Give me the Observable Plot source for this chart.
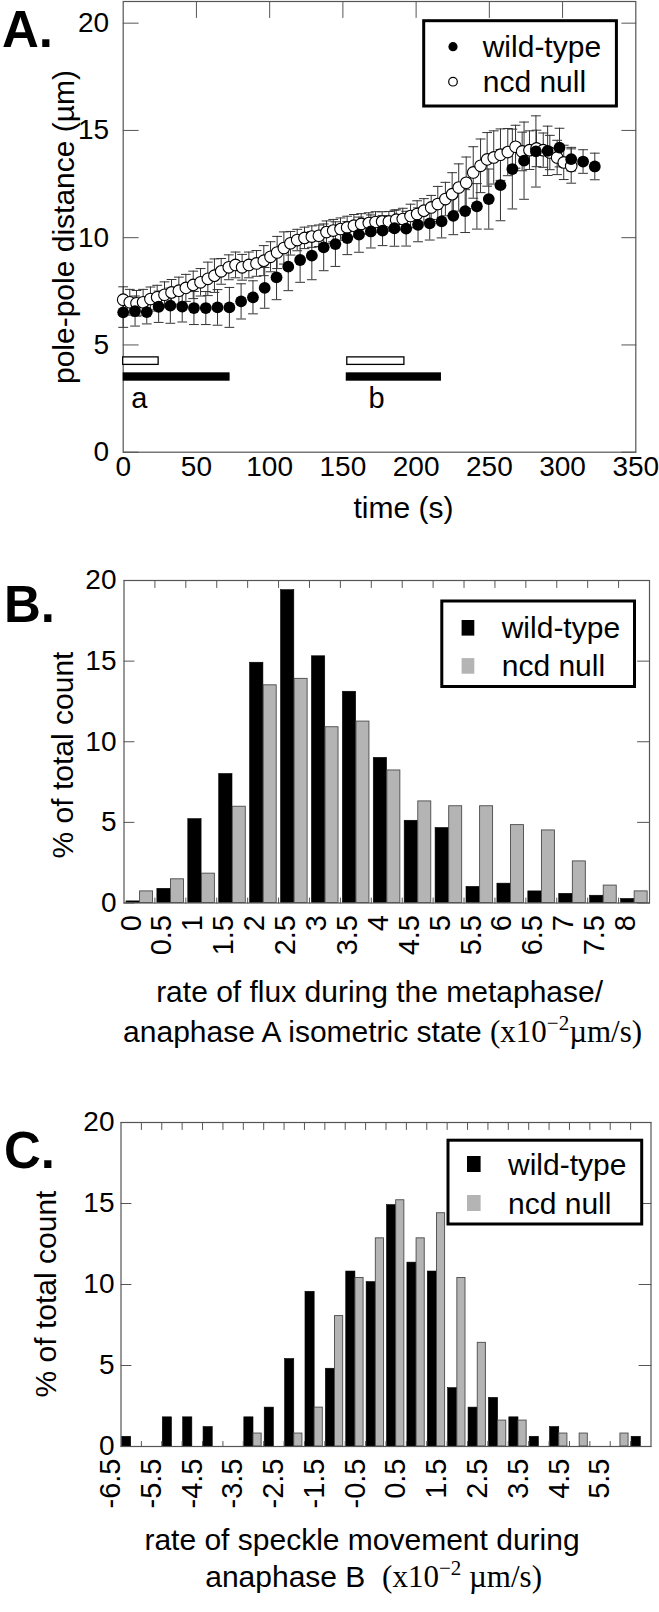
<!DOCTYPE html>
<html>
<head>
<meta charset="utf-8">
<script src="https://cdn.jsdelivr.net/npm/d3@7"></script>
<script src="https://cdn.jsdelivr.net/npm/@observablehq/plot@0.6"></script>
<style>
  html, body { margin: 0; padding: 0; background: #fff; }
  #chart { width: 659px; }
  #chart svg { display: block; }
</style>
</head>
<body>
<div id="chart"></div>
<script>
// ---------------- Panel A: pole-pole distance vs time ----------------
const wtTime = [0,8.1,16.1,24.2,32.2,40.3,48.3,56.4,64.4,72.5,80.5,88.6,96.6,104.7,112.7,120.8,128.8,136.9,144.9,153,161,169.1,177.1,185.2,193.2,201.3,209.3,217.4,225.4,233.5,241.5,249.6,257.6,265.7,273.7,281.8,289.8,297.9,305.9,314,322];
const wtDist = [6.52,6.58,6.53,6.78,6.83,6.79,6.72,6.72,6.75,6.75,7.03,7.22,7.66,8.15,8.65,8.96,9.16,9.55,9.70,9.98,10.14,10.29,10.33,10.44,10.42,10.60,10.67,10.76,11.02,11.24,11.46,11.80,12.45,13.20,13.59,14.02,14.05,14.20,13.66,13.55,13.32];
const wtSD = [0.70,0.70,0.55,0.73,0.82,0.72,0.77,0.77,0.83,0.93,0.82,0.77,0.95,1.04,1.12,1.04,1.12,1.09,1.04,0.77,0.82,0.77,0.70,0.84,0.81,0.79,0.78,0.77,0.88,1.00,1.06,1.40,1.66,1.86,1.80,1.66,1.15,0.90,0.55,0.55,0.62];

const ncdTime = [0,4.5,9.1,13.6,18.6,23.2,28.2,33,38,42.8,47.8,52.8,57.8,62.3,66.9,72.1,76.7,81.2,85.8,91,96,100.6,105.1,109.7,114.2,118.8,123.8,128.8,133.6,138.8,143.4,148.4,152.9,157.5,162.5,167.7,172.3,176.8,181.4,186.4,190.9,196.2,200.7,205.3,210.3,214.8,220,224.6,229.1,234.2,239,244,248.5,253,257.6,262.6,267.9,272.4,277.4,282.2,286.8,291.3,296.3,300.8,305.9];
const ncdDist = [7.11,6.99,6.94,6.99,7.14,7.22,7.34,7.45,7.53,7.66,7.80,7.92,8.08,8.23,8.43,8.62,8.73,8.62,8.73,8.80,8.93,9.11,9.31,9.52,9.74,9.89,9.99,10.05,10.09,10.26,10.33,10.40,10.48,10.56,10.64,10.68,10.73,10.75,10.76,10.84,10.87,11.01,11.10,11.26,11.41,11.57,11.80,12.03,12.34,12.56,13.04,13.35,13.65,13.74,13.87,13.99,14.24,14.02,14.08,14.16,14.08,13.97,13.74,13.51,13.34];
const ncdSD = [0.60,0.60,0.60,0.60,0.56,0.56,0.60,0.60,0.63,0.63,0.64,0.64,0.78,0.78,0.60,0.58,0.60,0.60,0.60,0.60,0.70,0.70,0.75,0.75,0.55,0.50,0.50,0.50,0.50,0.52,0.52,0.52,0.52,0.52,0.48,0.48,0.48,0.46,0.46,0.46,0.50,0.55,0.62,0.56,0.56,0.82,0.78,1.00,1.10,1.20,1.20,1.25,1.25,1.24,1.20,1.10,1.00,0.90,0.90,0.85,0.80,0.80,0.80,0.80,0.80];

const timeTicks = [0,50,100,150,200,250,300,350];
const distTicks = [0,5,10,15,20];

// measured intervals a and b (seconds)
const intervalLabel = ["a", "b"];
const ncdIntervalStart = [0, 153];
const ncdIntervalEnd = [24.2, 192];
const wtIntervalStart = [0, 152.3];
const wtIntervalEnd = [73, 217.3];
const intervalLabelTime = [11, 173];

// ---------------- Panel B: flux rate histogram ----------------
const fluxBins = ["0","0.5","1","1.5","2","2.5","3","3.5","4","4.5","5","5.5","6","6.5","7","7.5","8"];
const fluxWT = [0.1,0.88,5.2,8.0,14.9,19.4,15.3,13.1,9.0,5.1,4.65,1.0,1.2,0.72,0.57,0.45,0.25];
const fluxNcd = [0.72,1.47,1.82,5.97,13.5,13.9,10.9,11.25,8.22,6.3,6.0,6.0,4.83,4.5,2.58,1.08,0.72];

// ---------------- Panel C: speckle movement histogram ----------------
const speckleBins = ["-6.5","-6","-5.5","-5","-4.5","-4","-3.5","-3","-2.5","-2","-1.5","-1","-0.5","0","0.5","1","1.5","2","2.5","3","3.5","4","4.5","5","5.5","6"];
const speckleWT = [0.6,0,1.8,1.8,1.2,0,1.8,2.4,5.4,9.55,4.8,10.8,10.15,14.9,11.35,10.8,3.6,2.4,3.0,1.8,0.6,1.2,0,0,0,0.6];
const speckleNcd = [0,0,0,0,0,0,0.8,0,0.8,2.4,8.05,10.4,12.85,15.2,12.85,14.4,10.4,6.4,1.6,1.6,0,0.8,0.8,0,0.8,0];
const speckleTickLabels = ["-6.5","-5.5","-4.5","-3.5","-2.5","-1.5","-0.5","0.5","1.5","2.5","3.5","4.5","5.5"];
const pctTicks = [0,5,10,15,20];

const seriesNames = ["wild-type", "ncd null"];

// ---------------- helpers ----------------
const SANS = "'Liberation Sans', Arial, Helvetica, sans-serif";
const SERIF = "'Liberation Serif', 'Times New Roman', Times, serif";
const INK = "#000";
const AXIS = "#555";
const GRAY = "#b4b4b4";

const lineShape = {draw(ctx, l) { ctx.moveTo(0, 0); ctx.lineTo(0, -l); }};
const capShape = {draw(ctx, l) { ctx.moveTo(-l / 2, 0); ctx.lineTo(l / 2, 0); }};

function innerTicks({xTicks, yTicks, x0, x1, y0, y1, left, right, top, bottom}) {
  const o = {anchor: "start", shape: lineShape, stroke: AXIS, strokeWidth: 1};
  const m = [];
  if (yTicks && left) m.push(Plot.vector(yTicks, {...o, x: () => x0, y: d => d, length: left, rotate: 90}));
  if (yTicks && right) m.push(Plot.vector(yTicks, {...o, x: () => x1, y: d => d, length: right, rotate: -90}));
  if (xTicks && top) m.push(Plot.vector(xTicks, {...o, x: d => d, y: () => y1, length: top, rotate: 180}));
  if (xTicks && bottom) m.push(Plot.vector(xTicks, {...o, x: d => d, y: () => y0, length: bottom, rotate: 0}));
  return m;
}

const baseStyle = {fontFamily: SANS, background: "white", color: INK, overflow: "visible"};

function addText(svg, x, y, str, {size = 30, anchor = "middle", rotate = 0, weight = "normal", family = SANS} = {}) {
  return svg.append("text")
    .attr("transform", `translate(${x},${y})` + (rotate ? ` rotate(${rotate})` : ""))
    .attr("text-anchor", anchor)
    .attr("dy", "0.35em")
    .style("font-family", family)
    .style("font-size", size + "px")
    .style("font-weight", weight)
    .attr("fill", INK)
    .text(str);
}

function addUnitTitle(svg, x, y, lead, gap) {
  const t = svg.append("text")
    .attr("transform", `translate(${x},${y})`)
    .attr("text-anchor", "middle")
    .attr("dy", "0.35em")
    .style("font-size", "30px")
    .attr("fill", INK);
  t.append("tspan").style("font-family", SANS).text(lead);
  t.append("tspan").style("font-family", SERIF).style("font-size", "31px").text("(x10");
  t.append("tspan").style("font-family", SERIF).style("font-size", "21px").attr("dy", "-0.55em").text("\u22122");
  t.append("tspan").style("font-family", SERIF).style("font-size", "31px").attr("dy", "0.38em").text(gap + "\u00b5m/s)");
  return t;
}

function barLegend(svg, box, sw, rows) {
  svg.append("rect").attr("x", box[0]).attr("y", box[1]).attr("width", box[2]).attr("height", box[3])
    .attr("fill", "white").attr("stroke", INK).attr("stroke-width", 3);
  rows.forEach(r => {
    svg.append("rect").attr("x", sw[0]).attr("y", r.y - sw[2] / 2).attr("width", sw[1]).attr("height", sw[2])
      .attr("fill", r.fill);
    addText(svg, r.tx, r.y, r.label, {size: 30, anchor: "start"});
  });
}

const chart = document.getElementById("chart");

// ================= Panel A =================
{
  const wtRows = wtTime.map((t, i) => ({t, v: wtDist[i], sd: wtSD[i]}));
  const ncdRows = ncdTime.map((t, i) => ({t, v: ncdDist[i], sd: ncdSD[i]}));
  const intervals = intervalLabel.map((label, i) => ({
    label, ns: ncdIntervalStart[i], ne: ncdIntervalEnd[i], ws: wtIntervalStart[i], we: wtIntervalEnd[i], lt: intervalLabelTime[i]
  }));
  const yTop = 21.01;
  const err = (rows) => [
    Plot.ruleX(rows, {x: "t", y1: d => d.v - d.sd, y2: d => d.v + d.sd, stroke: "#333", strokeWidth: 1}),
    Plot.vector(rows, {x: "t", y: d => d.v + d.sd, length: 9, rotate: 0, anchor: "start", shape: capShape, stroke: "#333", strokeWidth: 1}),
    Plot.vector(rows, {x: "t", y: d => d.v - d.sd, length: 9, rotate: 0, anchor: "start", shape: capShape, stroke: "#333", strokeWidth: 1})
  ];
  const svgA = Plot.plot({
    width: 659, height: 530,
    marginTop: 1, marginRight: 23.7, marginBottom: 78.3, marginLeft: 122.7,
    x: {domain: [0, 350]},
    y: {domain: [0, yTop]},
    style: baseStyle,
    marks: [
      Plot.frame({stroke: AXIS, strokeWidth: 1.2}),
      ...innerTicks({xTicks: timeTicks.slice(1, -1), yTicks: distTicks, x0: 0, x1: 350, y0: 0, y1: yTop, left: 15, right: 14, top: 16, bottom: 0}),
      Plot.axisX({ticks: timeTicks, tickSize: 0, tickPadding: 4, fontSize: 28, label: null}),
      Plot.axisY({ticks: distTicks, tickSize: 0, tickPadding: 14, fontSize: 28, label: null}),
      Plot.rect(intervals, {x1: "ns", x2: "ne", y1: 4.07, y2: 4.42, fill: "white", stroke: INK, strokeWidth: 1.3}),
      Plot.rect(intervals, {x1: "ws", x2: "we", y1: 3.31, y2: 3.70, fill: INK}),
      Plot.text(intervals, {x: "lt", y: 2.5, text: "label", fontSize: 29, fill: INK}),
      ...err(ncdRows),
      ...err(wtRows),
      Plot.dot(ncdRows, {x: "t", y: "v", r: 5.8, fill: "white", stroke: INK, strokeWidth: 1.1}),
      Plot.dot(wtRows, {x: "t", y: "v", r: 5.9, fill: INK})
    ]
  });
  chart.appendChild(svgA);
  const s = d3.select(svgA);
  addText(s, 2, 29, "A.", {size: 51, anchor: "start", weight: "bold"});
  addText(s, 63, 227, "pole-pole distance (\u00b5m)", {size: 30, rotate: -90});
  addText(s, 403.5, 507, "time (s)", {size: 30});
  // legend
  s.append("rect").attr("x", 423.7).attr("y", 20.7).attr("width", 192.7).attr("height", 85.3)
    .attr("fill", "white").attr("stroke", INK).attr("stroke-width", 3);
  s.append("circle").attr("cx", 453).attr("cy", 46.7).attr("r", 4.6).attr("fill", INK);
  s.append("circle").attr("cx", 453).attr("cy", 81.7).attr("r", 4.3).attr("fill", "white").attr("stroke", INK).attr("stroke-width", 1.2);
  addText(s, 482.7, 46.7, seriesNames[0], {size: 30, anchor: "start"});
  addText(s, 482.7, 81.7, seriesNames[1], {size: 30, anchor: "start"});
}

// ================= Panel B =================
{
  const rows = fluxBins.map((label, i) => ({i, label, wt: fluxWT[i], ncd: fluxNcd[i]}));
  const n = fluxBins.length;
  const labelOffset = 0.235;
  const edges = d3.range(1, n);
  const svgB = Plot.plot({
    width: 659, height: 530,
    marginTop: 50, marginRight: 10, marginBottom: 157.5, marginLeft: 123.5,
    x: {domain: [0, n]},
    y: {domain: [0, 20]},
    style: baseStyle,
    marks: [
      Plot.rectY(rows.filter(d => d.wt > 0), {x1: d => d.i + 0.08, x2: d => d.i + 0.51, y: "wt", fill: INK, stroke: INK, strokeWidth: 0.6}),
      Plot.rectY(rows.filter(d => d.ncd > 0), {x1: d => d.i + 0.52, x2: d => d.i + 0.94, y: "ncd", fill: GRAY, stroke: "#4a4a4a", strokeWidth: 0.9}),
      Plot.frame({stroke: AXIS, strokeWidth: 1.2}),
      ...innerTicks({xTicks: edges, yTicks: pctTicks, x0: 0, x1: n, y0: 0, y1: 20, left: 10, right: 12, top: 7, bottom: 5}),
      Plot.axisY({ticks: pctTicks, tickSize: 0, tickPadding: 7.5, fontSize: 28, label: null}),
      Plot.axisX({ticks: rows.map(d => d.i + labelOffset), tickFormat: d => fluxBins[Math.round(d - labelOffset)],
        tickRotate: -90, tickSize: 0, tickPadding: 12, fontSize: 29, label: null})
    ]
  });
  chart.appendChild(svgB);
  const s = d3.select(svgB);
  addText(s, 4, 74, "B.", {size: 51, anchor: "start", weight: "bold"});
  addText(s, 62, 225, "% of total count", {size: 30, rotate: -90});
  addText(s, 379.6, 461.5, "rate of flux during the metaphase/", {size: 30});
  addUnitTitle(s, 382.6, 501, "anaphase A isometric state ", "");
  barLegend(s, [441.8, 71, 192.7, 85.5], [461.6, 12.7, 15.6], [
    {y: 97.8, fill: INK, tx: 501.7, label: seriesNames[0]},
    {y: 135.9, fill: GRAY, tx: 501.7, label: seriesNames[1]}
  ]);
}

// ================= Panel C =================
{
  const rows = speckleBins.map((label, i) => ({i, label, wt: speckleWT[i], ncd: speckleNcd[i]}));
  const n = speckleBins.length;
  const edges = d3.range(1, n);
  const svgC = Plot.plot({
    width: 659, height: 552,
    marginTop: 62, marginRight: 8.5, marginBottom: 166, marginLeft: 120.5,
    x: {domain: [0, n]},
    y: {domain: [0, 20]},
    style: baseStyle,
    marks: [
      Plot.rectY(rows.filter(d => d.wt > 0), {x1: d => d.i + 0.05, x2: d => d.i + 0.5, y: "wt", fill: INK, stroke: INK, strokeWidth: 0.6}),
      Plot.rectY(rows.filter(d => d.ncd > 0), {x1: d => d.i + 0.5, x2: d => d.i + 0.9, y: "ncd", fill: GRAY, stroke: "#4a4a4a", strokeWidth: 0.9}),
      Plot.frame({stroke: AXIS, strokeWidth: 1.2}),
      ...innerTicks({xTicks: edges, yTicks: pctTicks, x0: 0, x1: n, y0: 0, y1: 20, left: 10, right: 12, top: 7, bottom: 5}),
      Plot.axisY({ticks: pctTicks, tickSize: 0, tickPadding: 6.5, fontSize: 28, label: null}),
      Plot.axisX({ticks: speckleTickLabels.map(l => speckleBins.indexOf(l) - 0.5),
        tickFormat: d => speckleBins[Math.round(d + 0.5)],
        tickRotate: -90, tickSize: 0, tickPadding: 12, fontSize: 29, label: null})
    ]
  });
  chart.appendChild(svgC);
  const s = d3.select(svgC);
  addText(s, 4, 90.5, "C.", {size: 51, anchor: "start", weight: "bold"});
  addText(s, 45, 234, "% of total count", {size: 30, rotate: -90});
  addText(s, 362, 479.5, "rate of speckle movement during", {size: 30});
  addUnitTitle(s, 373.6, 516.5, "anaphase B\u00a0\u00a0", "\u00a0");
  barLegend(s, [448, 80.2, 193.7, 83.8], [467, 13.6, 16], [
    {y: 104, fill: INK, tx: 508, label: seriesNames[0]},
    {y: 143, fill: GRAY, tx: 508, label: seriesNames[1]}
  ]);
}
</script>
</body>
</html>
